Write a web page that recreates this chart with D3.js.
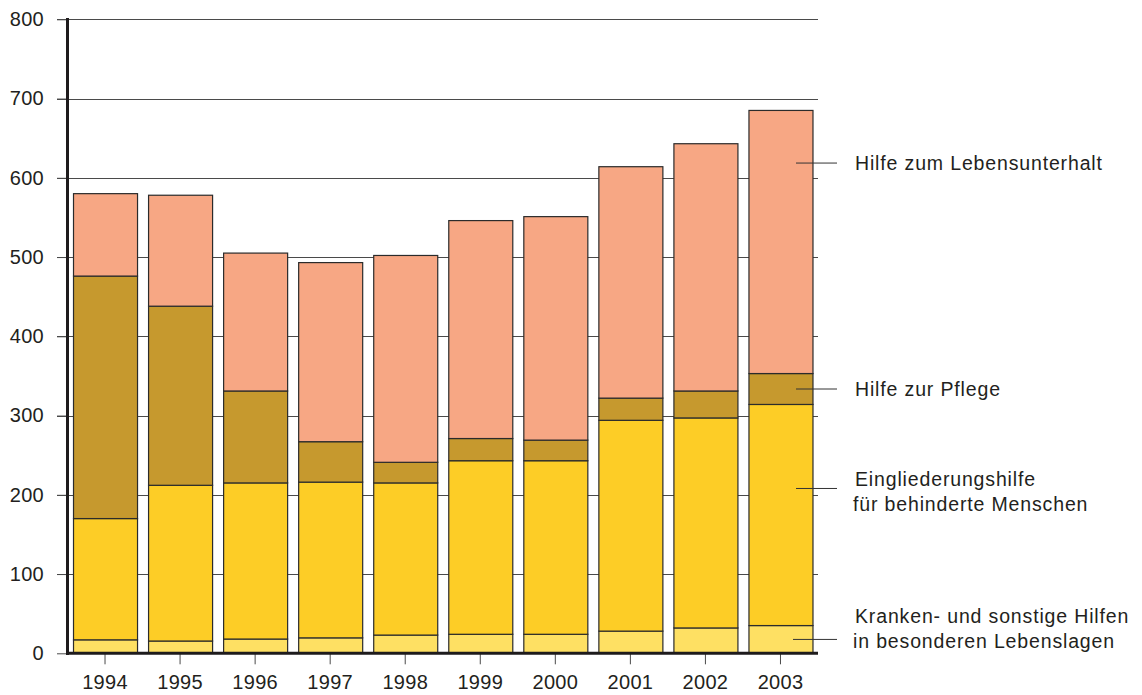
<!DOCTYPE html>
<html>
<head>
<meta charset="utf-8">
<script src="https://cdn.jsdelivr.net/npm/d3@7"></script>
<style>
  html, body { margin: 0; padding: 0; background: #fff; }
  svg { display: block; font-family: "Liberation Sans", Arial, sans-serif; }
</style>
</head>
<body>
<svg id="chart" width="1142" height="695"></svg>
<script>
// Sozialhilfe-Ausgaben nach Hilfearten (Mio. EUR), 1994–2003
const years = ["1994", "1995", "1996", "1997", "1998", "1999", "2000", "2001", "2002", "2003"];

const krankenHilfen      = [17, 15.5, 18, 19.5, 23, 24, 24, 28, 32, 35];
const eingliederungshilfe = [153, 196.5, 197, 196.5, 192, 219, 219, 266, 265, 279];
const hilfeZurPflege     = [306, 226, 116, 51, 26, 28, 26, 28, 34, 39];
const lebensunterhalt    = [104, 140, 174, 226, 261, 275, 282, 292, 312, 332];

const yTicks = [0, 100, 200, 300, 400, 500, 600, 700, 800];

const seriesKeys   = ["kranken", "eingl", "pflege", "leben"];
const seriesLabels = [
  ["Kranken- und sonstige Hilfen", "in besonderen Lebenslagen"],
  ["Eingliederungshilfe", "für behinderte Menschen"],
  ["Hilfe zur Pflege"],
  ["Hilfe zum Lebensunterhalt"]
];
const seriesColors = ["#fee063", "#fdcd26", "#c6992e", "#f7a784"];

const rows = years.map((y, i) => ({
  year: y,
  kranken: krankenHilfen[i],
  eingl: eingliederungshilfe[i],
  pflege: hilfeZurPflege[i],
  leben: lebensunterhalt[i]
}));

const svg = d3.select("#chart");
const ink = "#231f20";

const x = d3.scaleBand()
  .domain(years)
  .range([67.5, 818])
  .paddingInner(0.147)
  .paddingOuter(0.0735);

const y = d3.scaleLinear()
  .domain([0, 800])
  .range([653.3, 19.3]);

const stack = d3.stack().keys(seriesKeys);
const stacked = stack(rows);

// horizontal grid lines (behind the bars)
svg.append("g")
  .selectAll("line")
  .data(yTicks.filter(d => d > 0))
  .join("line")
  .attr("x1", 57).attr("x2", 818)
  .attr("y1", d => Math.round(y(d)) + 0.5)
  .attr("y2", d => Math.round(y(d)) + 0.5)
  .attr("stroke", "#4a4a4a")
  .attr("stroke-width", 1);

// stacked bars
svg.append("g")
  .selectAll("g")
  .data(stacked)
  .join("g")
  .attr("fill", (d, i) => seriesColors[i])
  .selectAll("rect")
  .data(d => d)
  .join("rect")
  .attr("x", d => x(d.data.year) + 0.5)
  .attr("width", x.bandwidth())
  .attr("y", d => y(d[1]))
  .attr("height", d => y(d[0]) - y(d[1]))
  .attr("stroke", "#2b2b2b")
  .attr("stroke-width", 1.2);

// y axis labels and ticks
const yAxis = d3.axisLeft(y)
  .tickValues(yTicks)
  .tickSize(10)
  .tickPadding(13)
  .tickFormat(d3.format("d"));

const gy = svg.append("g")
  .attr("transform", "translate(67,0)")
  .call(yAxis);
gy.select(".domain").remove();
gy.selectAll(".tick line").attr("stroke", "#4a4a4a");
gy.selectAll(".tick text")
  .attr("fill", ink)
  .style("font-size", "20px")
  .style("letter-spacing", "0.3px")
  .style("font-family", "'Liberation Sans', Arial, sans-serif");

// x axis labels and ticks
const xAxis = d3.axisBottom(x)
  .tickSize(11)
  .tickPadding(11);

const gx = svg.append("g")
  .attr("transform", "translate(0,653.3)")
  .call(xAxis);
gx.select(".domain").remove();
gx.selectAll(".tick line").attr("stroke", "#4a4a4a");
gx.selectAll(".tick text")
  .attr("fill", ink)
  .style("font-size", "20px")
  .style("letter-spacing", "0.3px")
  .style("font-family", "'Liberation Sans', Arial, sans-serif");

// heavy axis lines
svg.append("line")
  .attr("x1", 67.5).attr("x2", 67.5)
  .attr("y1", 18).attr("y2", 655)
  .attr("stroke", "#1e1b1c").attr("stroke-width", 3);
svg.append("line")
  .attr("x1", 66).attr("x2", 818)
  .attr("y1", 653.3).attr("y2", 653.3)
  .attr("stroke", "#1e1b1c").attr("stroke-width", 3);

// series labels with leader lines into the last bar
const last = rows.length - 1;
const leaderAt = [0.5, 0.62, 0.5, 0.8];
const leaderX1 = [793, 796, 796, 796];
const labelG = svg.append("g");
stacked.forEach((s, i) => {
  const seg = s[last];
  const v = seg[0] + (seg[1] - seg[0]) * leaderAt[i];
  const ly = y(v);
  labelG.append("line")
    .attr("x1", leaderX1[i]).attr("x2", 837)
    .attr("y1", ly).attr("y2", ly)
    .attr("stroke", "#333").attr("stroke-width", 1);
  const lines = seriesLabels[i];
  const t = labelG.append("text")
    .attr("fill", ink)
    .style("font-size", "19.5px")
    .style("letter-spacing", "0.85px");
  lines.forEach((ln, j) => {
    t.append("tspan")
      .attr("x", j === 0 ? 855 : 853)
      .attr("y", ly + (lines.length === 1 ? 7 : (i === 0 ? -16 : -2)) + j * 24.5)
      .text(ln);
  });
});
</script>
</body>
</html>
